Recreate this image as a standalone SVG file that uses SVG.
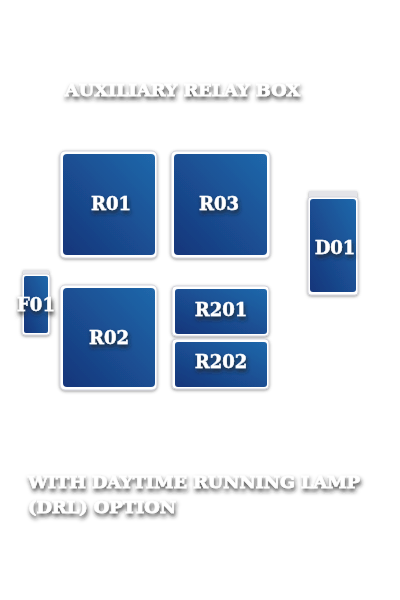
<svg xmlns="http://www.w3.org/2000/svg" width="400" height="600" viewBox="0 0 400 600">
<defs>
<linearGradient id="blue" x1="1" y1="0" x2="0" y2="1">
<stop offset="0" stop-color="#2068ab"/>
<stop offset="1" stop-color="#15357a"/>
</linearGradient>
<filter id="ts" x="-20%" y="-50%" width="140%" height="220%">
<feGaussianBlur in="SourceAlpha" stdDeviation="2.2"/>
<feOffset dx="1" dy="3" result="b"/>
<feFlood flood-color="#222" flood-opacity="0.9"/>
<feComposite in2="b" operator="in"/>
<feMerge><feMergeNode/><feMergeNode in="SourceGraphic"/></feMerge>
</filter>
<filter id="bs" x="-20%" y="-20%" width="140%" height="140%">
<feGaussianBlur in="SourceAlpha" stdDeviation="1.5"/>
<feOffset dx="0" dy="1" result="b"/>
<feFlood flood-color="#555" flood-opacity="0.6"/>
<feComposite in2="b" operator="in"/>
<feMerge><feMergeNode/><feMergeNode in="SourceGraphic"/></feMerge>
</filter>
</defs>
<style>
.frame{fill:#fff;stroke:#d4d4dc;stroke-width:1}
.box{fill:url(#blue)}
.lbl{font-family:"DejaVu Serif","Liberation Serif",serif;font-weight:bold;font-size:18px;fill:#fff;stroke:#fff;stroke-width:0.4;text-anchor:middle;filter:url(#ts)}
.ttl{font-family:"DejaVu Serif","Liberation Serif",serif;font-weight:bold;font-size:17px;fill:#fff;stroke:#fff;stroke-width:0.6;filter:url(#ts)}
</style>
<text class="ttl" x="65" y="96" textLength="235" lengthAdjust="spacingAndGlyphs">AUXILIARY RELAY BOX</text>
<g id="R01" filter="url(#bs)">
<rect class="frame" x="60" y="151" width="97" height="107" rx="5"/>
<rect class="box" x="63" y="154" width="92" height="101" rx="4"/>
<text class="lbl" x="111" y="210">R01</text>
</g>
<g id="R03" filter="url(#bs)">
<rect class="frame" x="171" y="151" width="99" height="107" rx="5"/>
<rect class="box" x="174" y="154" width="93" height="101" rx="4"/>
<text class="lbl" x="219" y="210">R03</text>
</g>
<g id="D01" filter="url(#bs)">
<rect x="309" y="191" width="48" height="8" fill="#e4e4e8"/>
<rect class="frame" x="308" y="197" width="50" height="98" rx="3"/>
<rect class="box" x="310" y="199" width="46" height="93" rx="3"/>
<text class="lbl" x="335" y="254">D01</text>
</g>
<g id="F01" filter="url(#bs)">
<rect x="23" y="270" width="26" height="6" fill="#e4e4e8"/>
<rect class="frame" x="22" y="274" width="28" height="61" rx="3"/>
<rect class="box" x="24" y="276" width="24" height="57" rx="2"/>
<text class="lbl" x="36" y="311">F01</text>
</g>
<g id="R02" filter="url(#bs)">
<rect class="frame" x="60" y="285" width="97" height="105" rx="5"/>
<rect class="box" x="63" y="288" width="92" height="99" rx="4"/>
<text class="lbl" x="109" y="344">R02</text>
</g>
<g id="R201" filter="url(#bs)">
<rect class="frame" x="172" y="286" width="97" height="50" rx="4"/>
<rect class="box" x="175" y="289" width="92" height="45" rx="3"/>
<text class="lbl" x="221" y="316">R201</text>
</g>
<g id="R202" filter="url(#bs)">
<rect class="frame" x="172" y="339" width="97" height="50" rx="4"/>
<rect class="box" x="175" y="342" width="92" height="45" rx="3"/>
<text class="lbl" x="221" y="368">R202</text>
</g>
<g id="connectors"/>
<text class="ttl" x="28" y="488" textLength="332" lengthAdjust="spacingAndGlyphs">WITH DAYTIME RUNNING LAMP</text>
<text class="ttl" x="28" y="513" textLength="148" lengthAdjust="spacingAndGlyphs">(DRL) OPTION</text>
</svg>
